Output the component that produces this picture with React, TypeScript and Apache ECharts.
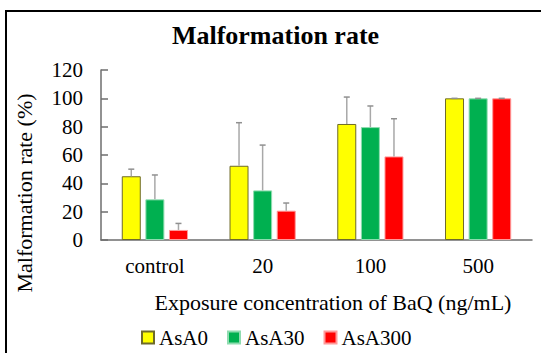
import React, { useEffect, useRef } from "react";
import * as echarts from "echarts";

const categories = ["control", "20", "100", "500"];
const seriesNames = ["AsA0", "AsA30", "AsA300"];
const asa0 = [45, 52.4, 81.9, 100];
const asa30 = [28.7, 35, 79.7, 100];
const asa300 = [7.1, 20.7, 59, 100];
const asa0Err = [5, 30.4, 19, 0];
const asa30Err = [17.2, 32, 14.9, 0];
const asa300Err = [4.6, 5.4, 26.6, 0];
const yTicks = [0, 20, 40, 60, 80, 100, 120];

const FONT = "Liberation Serif, Times New Roman, serif";
const BAR_W = 19;
const GAP = 4.6;

export default function App() {
  const ref = useRef<HTMLDivElement>(null);
  useEffect(() => {
    if (!ref.current) return;
    const chart = echarts.init(ref.current, null, { renderer: "svg" });
    const values = [asa0, asa30, asa300];
    const errs = [asa0Err, asa30Err, asa300Err];
    const colors = ["#FFFF00", "#00B050", "#FF0000"];
    const borders = ["#6e6a2a", "#8fdcb0", "#ff9a9a"];

    const barSeries = seriesNames.map((name, i) => ({
      type: "bar",
      name,
      data: values[i],
      barWidth: BAR_W,
      barGap: (GAP / BAR_W) * 100 + "%",
      itemStyle: { color: colors[i], borderColor: borders[i], borderWidth: 1 },
    }));

    const errSeries = seriesNames.map((name, i) => ({
      type: "custom",
      name: name + "-err",
      z: 5,
      data: values[i].map((v, k) => [k, v, v + errs[i][k]]),
      encode: { x: 0, y: 2 },
      renderItem: (params: any, api: any) => {
        const k = api.value(0);
        const lo = api.coord([k, api.value(1)]);
        const hi = api.coord([k, api.value(2)]);
        const x = lo[0] + (i - 1) * (BAR_W + GAP);
        return {
          type: "group",
          children: [
            {
              type: "line",
              shape: { x1: x, y1: lo[1], x2: x, y2: hi[1] },
              style: { stroke: "#a8a8a8", lineWidth: 1.5 },
            },
            {
              type: "line",
              shape: { x1: x - 3, y1: hi[1], x2: x + 3, y2: hi[1] },
              style: { stroke: "#909090", lineWidth: 1.5 },
            },
          ],
        };
      },
    }));

    const axisFont = { fontSize: 21, color: "#000", fontFamily: FONT };

    chart.setOption({
      animation: false,
      textStyle: { fontFamily: FONT },
      grid: { left: 101, top: 70, right: 9, bottom: 113, containLabel: false },
      legend: {
        data: seriesNames,
        left: 141,
        top: 327,
        padding: 0,
        itemWidth: 12,
        itemHeight: 12,
        itemGap: 19,
        icon: "rect",
        textStyle: { ...axisFont },
      },
      xAxis: {
        type: "category",
        data: categories,
        axisLine: { lineStyle: { color: "#6e6e6e", width: 1.5 } },
        axisTick: { inside: true, length: 7, lineStyle: { color: "#6e6e6e", width: 1.5 } },
        axisLabel: { ...axisFont, margin: 15 },
      },
      yAxis: {
        type: "value",
        min: 0,
        max: 120,
        interval: 20,
        axisLine: { show: true, lineStyle: { color: "#6e6e6e", width: 1.5 } },
        axisTick: { show: true, inside: true, length: 7, lineStyle: { color: "#6e6e6e", width: 1.5 } },
        splitLine: { show: false },
        axisLabel: {
          ...axisFont,
          margin: 18,
          formatter: (v: number) => (yTicks.includes(v) ? String(v) : ""),
        },
      },
      graphic: [
        {
          type: "rect",
          shape: { x: 6, y: 11, width: 700, height: 500 },
          style: { fill: "none", stroke: "#000", lineWidth: 2 },
          silent: true,
        },
        {
          type: "text",
          x: 275.5,
          y: 35,
          style: {
            text: "Malformation rate",
            fontSize: 26,
            fontWeight: "bold",
            fontFamily: FONT,
            fill: "#000",
            align: "center",
            verticalAlign: "middle",
          },
        },
        {
          type: "text",
          x: 333,
          y: 302,
          style: {
            text: "Exposure concentration of BaQ (ng/mL)",
            fontSize: 22,
            fontFamily: FONT,
            fill: "#000",
            align: "center",
            verticalAlign: "middle",
          },
        },
        {
          type: "text",
          x: 24,
          y: 193,
          rotation: Math.PI / 2,
          style: {
            text: "Malformation rate (%)",
            fontSize: 22,
            fontFamily: FONT,
            fill: "#000",
            align: "center",
            verticalAlign: "middle",
          },
        },
      ],
      series: [...barSeries, ...errSeries],
    });
    return () => chart.dispose();
  }, []);
  return <div ref={ref} style={{ width: 541, height: 353, position: "absolute", left: 0, top: 0 }} />;
}
